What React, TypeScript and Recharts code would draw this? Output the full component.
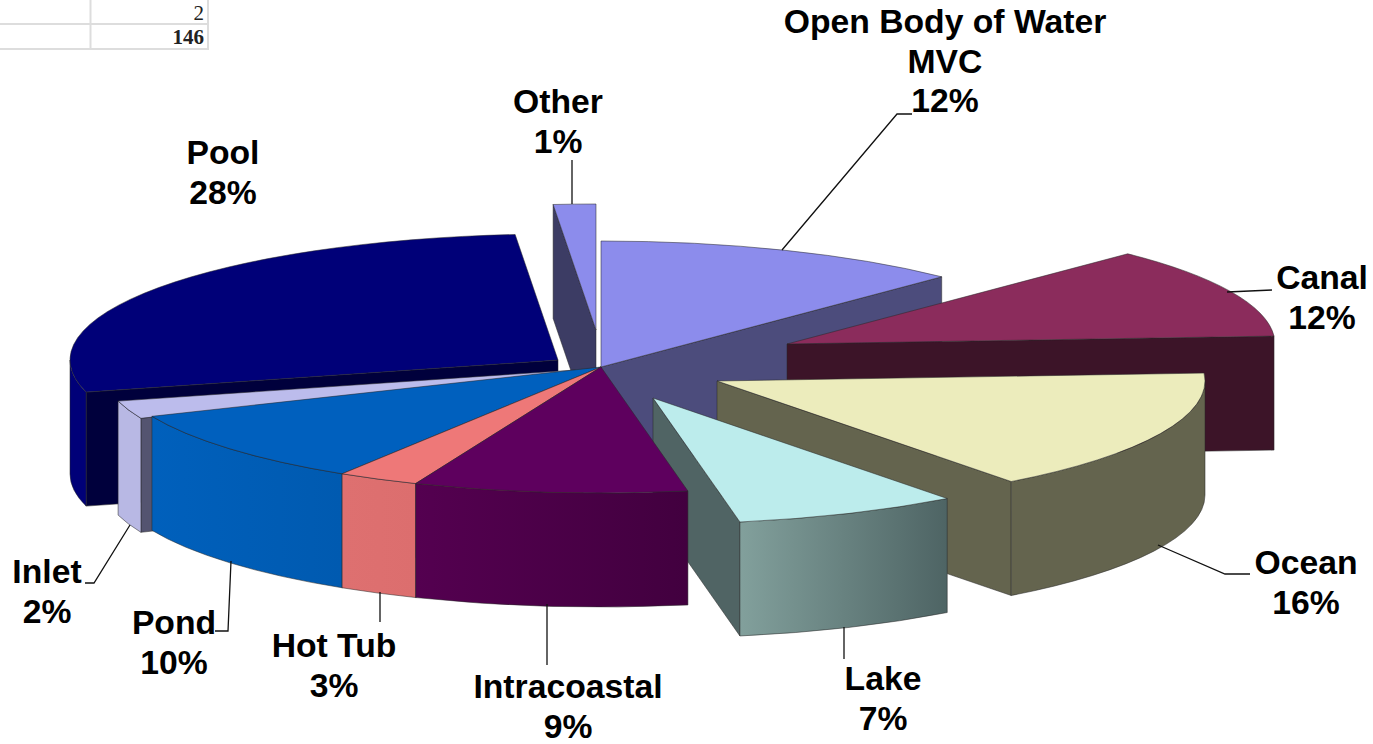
import { PieChart, Pie } from "recharts";

// values as percent of the 146 cases
const categories = ["Open Body of Water MVC", "Canal", "Ocean", "Lake", "Intracoastal", "Hot Tub", "Pond", "Inlet", "Pool", "Other"];
const shares = [12.3, 11.7, 15.7, 7.45, 9.05, 2.7, 9.7, 2.3, 27.7, 1.4];
const tableValues = ["2", "146"];

const tableData = categories.map((name, i) => ({ name, value: shares[i] }));

const CX = 601;
const CY = 367;
const RADIUS = 488;
const SQUASH = 126 / 488;
const DEPTH = 114;
const EDGE = "rgba(40,40,40,0.65)";

// back to front, slices overlap like a painter's stack
const drawOrder = ["Other", "Open Body of Water MVC", "Pool", "Canal", "Ocean", "Lake", "Inlet", "Pond", "Hot Tub", "Intracoastal"];

// how far each slice is pulled from the centre, and its face colours
const sliceStyles: Record<string, any> = {
  "Open Body of Water MVC": { dx: 0, dy: 0, top: "#8C8CEC", side: "#4C4C7C", wall: ["#4C4C7C", "#4C4C7C"] },
  Canal: { dx: 186, dy: -23, top: "#8B2C5C", side: "#3C1428", wall: ["#3C1428", "#3C1428"] },
  Ocean: { dx: 116, dy: 14, top: "#ECECBC", side: "#64644E", wall: ["#64644E", "#64644E"] },
  Lake: { dx: 52, dy: 31, top: "#BCECEC", side: "#506464", wall: ["#82A09C", "#4E6464"] },
  Intracoastal: { dx: 0, dy: 0, top: "#5E005E", side: "#42003F", wall: ["#540050", "#42003F"] },
  "Hot Tub": { dx: 0, dy: 0, top: "#EE7878", side: "#DE7070", wall: ["#DE7070", "#DC6E6E"] },
  Pond: { dx: 0, dy: 0, top: "#0060BE", side: "#005EB8", wall: ["#0060BC", "#005AB0"] },
  Inlet: { dx: -11, dy: 2, top: "#BCBCEC", side: "#545470", wall: ["#B8B8E4", "#B8B8E4"] },
  Pool: { dx: -43, dy: -7, top: "#000078", side: "#00003C", wall: ["#000078", "#000078"] },
  Other: { dx: -5, dy: -37, top: "#8C8CEC", side: "#3C3C64", wall: ["#3C3C64", "#3C3C64"] },
};

// label text placement and leader lines
const labelLayout: Record<string, any> = {
  "Open Body of Water MVC": { x: 945, y: 33, lines: ["Open Body of Water", "MVC"], leader: "782,250 897,114 912,114" },
  Canal: { x: 1322, y: 289, lines: ["Canal"], leader: "1227,292 1272,290" },
  Ocean: { x: 1306, y: 574, lines: ["Ocean"], leader: "1158,545 1225,574 1250,574" },
  Lake: { x: 883, y: 690, lines: ["Lake"], leader: "844,627 844,659" },
  Intracoastal: { x: 568, y: 698, lines: ["Intracoastal"], leader: "547,604 547,665" },
  "Hot Tub": { x: 334, y: 657, lines: ["Hot Tub"], leader: "380,592 380,622" },
  Pond: { x: 174, y: 634, lines: ["Pond"], leader: "231,561 228,631 215,631" },
  Inlet: { x: 47, y: 583, lines: ["Inlet"], leader: "130,525 94,583 85,583" },
  Pool: { x: 223, y: 164, lines: ["Pool"] },
  Other: { x: 558, y: 113, lines: ["Other"], leader: "572,160 572,204" },
};

function Slice3D(props: any, only: string) {
  const { cx, cy, outerRadius, startAngle, endAngle, payload, name } = props;
  const key = payload?.name ?? name;
  if (key !== only) return <g />;
  const s = sliceStyles[key];
  const ax = cx + s.dx;
  const ay = cy + s.dy;
  const rx = outerRadius;
  const ry = outerRadius * SQUASH;
  const c0 = 90 - startAngle;
  const c1 = 90 - endAngle;
  const pt = (c: number, drop = 0): [number, number] => {
    const a = (c * Math.PI) / 180;
    return [ax + rx * Math.sin(a), ay - ry * Math.cos(a) + drop];
  };
  const p0 = pt(c0);
  const p1 = pt(c1);
  const large = c1 - c0 > 180 ? 1 : 0;
  const top = `M${ax},${ay} L${p0[0]},${p0[1]} A${rx},${ry} 0 ${large} 1 ${p1[0]},${p1[1]} Z`;
  const radial = (p: [number, number]) =>
    `M${ax},${ay} L${p[0]},${p[1]} L${p[0]},${p[1] + DEPTH} L${ax},${ay + DEPTH} Z`;
  // only the cut faces turned towards the viewer get drawn
  const showStart = Math.sin((c0 * Math.PI) / 180) < -0.001;
  const showEnd = Math.sin((c1 * Math.PI) / 180) > 0.001;
  const lo = Math.max(c0, 90);
  const hi = Math.min(c1, 270);
  let wall = "";
  if (lo < hi) {
    const a = pt(lo);
    const b = pt(hi);
    const a2 = pt(lo, DEPTH);
    const b2 = pt(hi, DEPTH);
    wall = `M${a[0]},${a[1]} A${rx},${ry} 0 0 1 ${b[0]},${b[1]} L${b2[0]},${b2[1]} A${rx},${ry} 0 0 0 ${a2[0]},${a2[1]} Z`;
  }
  const gradId = `wall-${categories.indexOf(key)}`;
  return (
    <g>
      <defs>
        <linearGradient id={gradId} x1="0" y1="0" x2="1" y2="0">
          <stop offset="0" stopColor={s.wall[0]} />
          <stop offset="1" stopColor={s.wall[1]} />
        </linearGradient>
      </defs>
      {showStart && <path d={radial(p0)} fill={s.side} stroke={EDGE} strokeWidth={0.8} />}
      {showEnd && <path d={radial(p1)} fill={s.side} stroke={EDGE} strokeWidth={0.8} />}
      {wall && <path d={wall} fill={`url(#${gradId})`} stroke={EDGE} strokeWidth={0.8} />}
      <path d={top} fill={s.top} stroke={EDGE} strokeWidth={0.8} />
    </g>
  );
}

function renderLabel(props: any) {
  const row = props.payload ?? props;
  const l = labelLayout[row.name];
  if (!l) return <g />;
  const rows = [...l.lines, `${Math.round(row.value)}%`];
  return (
    <g key={row.name}>
      {l.leader && <polyline points={l.leader} fill="none" stroke="#111" strokeWidth={1.3} />}
      <text
        x={l.x}
        y={l.y}
        textAnchor="middle"
        fill="#000"
        stroke="none"
        style={{ fontFamily: "'Liberation Sans', Arial, sans-serif", fontWeight: 700, fontSize: 33.7 }}
      >
        {rows.map((t, i) => (
          <tspan key={i} x={l.x} y={l.y + i * 39.5}>
            {t}
          </tspan>
        ))}
      </text>
    </g>
  );
}

export default function App() {
  return (
    <div style={{ position: "absolute", left: 0, top: 0, width: 1373, height: 744, background: "#fff", overflow: "hidden" }}>
      <svg width={230} height={60} style={{ position: "absolute", left: 0, top: 0 }}>
        <g stroke="#DDDDDD" strokeWidth={2}>
          <line x1={0} y1={24} x2={208} y2={24} />
          <line x1={0} y1={49} x2={208} y2={49} />
          <line x1={90.5} y1={0} x2={90.5} y2={50} />
          <line x1={208} y1={0} x2={208} y2={50} />
        </g>
        <g style={{ fontFamily: "'Liberation Serif', serif", fontSize: 21 }} fill="#222" textAnchor="end">
          <text x={204} y={20}>{tableValues[0]}</text>
          <text x={204} y={44} fontWeight={700}>{tableValues[1]}</text>
        </g>
      </svg>
      <div style={{ position: "absolute", left: 0, top: 0 }}>
        <PieChart width={1373} height={744} margin={{ top: 0, right: 0, bottom: 0, left: 0 }}>
          {drawOrder.map((only, i) => (
            <Pie
              key={only}
              data={tableData}
              dataKey="value"
              nameKey="name"
              cx={CX}
              cy={CY}
              innerRadius={0}
              outerRadius={RADIUS}
              startAngle={90}
              endAngle={-270}
              stroke="none"
              isAnimationActive={false}
              shape={(p: any) => Slice3D(p, only)}
              label={i === drawOrder.length - 1 ? renderLabel : false}
              labelLine={false}
            />
          ))}
        </PieChart>
      </div>
    </div>
  );
}
